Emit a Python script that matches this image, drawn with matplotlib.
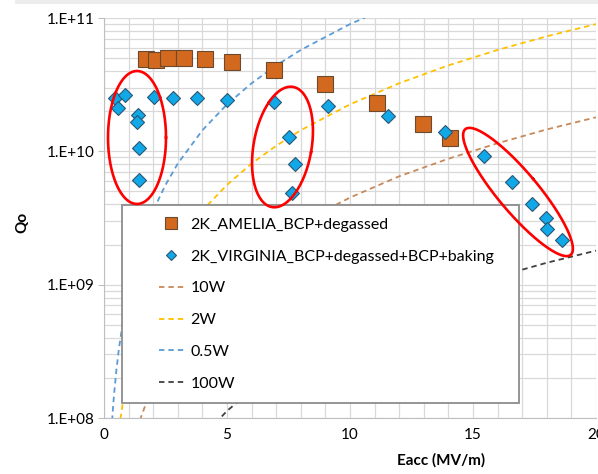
import numpy as np
import matplotlib
matplotlib.use("Agg")
import matplotlib.pyplot as plt
from matplotlib.lines import Line2D
from matplotlib.legend_handler import HandlerLine2D
from matplotlib.patches import Rectangle
from matplotlib.ticker import LogLocator, MultipleLocator

plt.rcParams['font.family'] = ['Lato', 'DejaVu Sans']

amelia_e = [1.7, 2.1, 2.6, 3.25, 4.1, 5.2, 6.9, 9.0, 11.1, 12.95, 14.05]
amelia_q = [4.9e10, 4.85e10, 5.0e10, 5.0e10, 4.9e10, 4.7e10, 4.05e10, 3.2e10, 2.3e10, 1.6e10, 1.25e10]

virginia_e = [0.45, 0.85, 0.57, 1.4, 1.33, 1.43, 1.43, 2.05, 2.8, 3.77, 5.0,
              6.9, 7.5, 7.77, 7.65, 9.1, 11.55, 13.85, 15.45, 16.6, 17.4, 17.95, 18.0, 18.6]
virginia_q = [2.5e10, 2.65e10, 2.1e10, 1.87e10, 1.66e10, 1.06e10, 6.1e9, 2.55e10, 2.5e10, 2.5e10, 2.43e10,
              2.35e10, 1.28e10, 8.0e9, 4.9e9, 2.2e10, 1.85e10, 1.4e10, 9.2e9, 5.9e9, 4.0e9, 3.15e9, 2.6e9, 2.15e9]

# constant power curves
curve_e = [0.3, 0.4, 0.5, 0.6, 0.8, 1.0, 1.25, 1.5, 2.0, 2.5, 3.0, 4.0, 5.0, 6.0, 7.0, 8.0,
           10.0, 12.0, 14.0, 16.0, 18.0, 20.0]
q_10w = [6.0e6, 7.2e6, 1.1e7, 1.6e7, 2.9e7, 4.5e7, 7.0e7, 1.01e8, 1.8e8, 2.8e8, 4.05e8, 7.2e8,
         1.13e9, 1.62e9, 2.2e9, 2.9e9, 4.5e9, 6.5e9, 8.8e9, 1.15e10, 1.46e10, 1.8e10]
q_2w = [2.0e7, 3.6e7, 5.6e7, 8.1e7, 1.44e8, 2.25e8, 3.5e8, 5.1e8, 9.0e8, 1.41e9, 2.03e9, 3.6e9,
        5.6e9, 8.1e9, 1.1e10, 1.44e10, 2.25e10, 3.24e10, 4.41e10, 5.76e10, 7.29e10, 9.0e10]
q_05w = [8.1e7, 1.44e8, 2.25e8, 3.24e8, 5.76e8, 9.0e8, 1.41e9, 2.03e9, 3.6e9, 5.6e9, 8.1e9, 1.44e10,
         2.25e10, 3.24e10, 4.41e10, 5.76e10, 9.0e10, 1.3e11, 1.76e11, 2.3e11, 2.9e11, 3.6e11]
q_100w = [4.0e5, 7.2e5, 1.1e6, 1.6e6, 2.9e6, 4.5e6, 7.0e6, 1.0e7, 1.8e7, 2.8e7, 4.05e7, 7.2e7,
          1.13e8, 1.62e8, 2.2e8, 2.9e8, 4.5e8, 6.5e8, 8.8e8, 1.15e9, 1.46e9, 1.8e9]

fig = plt.figure(figsize=(5.98, 4.74), dpi=100)
fig.patches.append(Rectangle((15/598, 470/474), 583/598, 4/474, transform=fig.transFigure,
                             color='#EDEDED', lw=0))
ax = fig.add_axes([104/598, 56/474, 492/598, 400/474])

grid_c = '#D9D9D9'
ax.set_xlim(0, 20)
ax.set_ylim(1e8, 1e11)
ax.set_yscale('log')
ax.xaxis.set_minor_locator(MultipleLocator(1))
ax.yaxis.set_minor_locator(LogLocator(base=10, subs=np.arange(2, 10), numticks=20))
ax.yaxis.set_minor_formatter(plt.NullFormatter())
ax.set_yticks([1e8, 1e9, 1e10, 1e11])
ax.set_yticklabels(['1.E+08', '1.E+09', '1.E+10', '1.E+11'])
ax.set_xticks([0, 5, 10, 15, 20])
ax.set_xticklabels(['0', '5', '10', '15', '20'])
ax.grid(which='both', color=grid_c, linewidth=0.9)
ax.set_axisbelow(True)
for s in ['top', 'right']:
    ax.spines[s].set_visible(False)
for s in ['left', 'bottom']:
    ax.spines[s].set_color('#BFBFBF')
ax.tick_params(axis='y', which='major', length=4, color='#BFBFBF', labelsize=11, pad=3)
ax.tick_params(axis='y', which='minor', length=0)
ax.tick_params(axis='x', which='both', length=0, labelsize=11, pad=7)

dash = (0, (3, 2.2))
ax.plot(curve_e, q_10w, ls=dash, color='#C8895A', lw=1.3, label='10W')
ax.plot(curve_e, q_2w, ls=dash, color='#FFC000', lw=1.3, label='2W')
ax.plot(curve_e, q_05w, ls=dash, color='#5B9BD5', lw=1.3, label='0.5W')
ax.plot(curve_e, q_100w, ls=dash, color='#404040', lw=1.3, label='100W')

ax.plot(amelia_e, amelia_q, 's', ms=11.5, mfc='#D2691E', mec='#6B4A30', mew=0.8,
        ls='none', label='2K_AMELIA_BCP+degassed')
ax.plot(virginia_e, virginia_q, 'D', ms=7.5, mfc='#10A8E6', mec='#2A5674', mew=0.8,
        ls='none', label='2K_VIRGINIA_BCP+degassed+BCP+baking')

handles, labels = ax.get_legend_handles_labels()
order = [4, 5, 0, 1, 2, 3]
leg = ax.legend([handles[i] for i in order], [labels[i] for i in order],
                loc='upper left', bbox_to_anchor=(0.0365, 0.05, 0.808, 0.4825), mode='expand',
                fontsize=11.5, frameon=True, fancybox=False, framealpha=1, edgecolor='#8C8C8C',
                labelspacing=1.1, handlelength=3.1, handletextpad=0.38, borderpad=0.8,
                borderaxespad=0, markerscale=0.72,
                handler_map={Line2D: HandlerLine2D(xpad=1.5)})
leg.get_frame().set_linewidth(1.3)
leg.set_zorder(5)

# red ellipses drawn in pixel space relative to the axes
W, H = 492.0, 400.0
t = np.linspace(0, 2 * np.pi, 200)
ellipses = [  # cx, cy (px from axes left/bottom), semi a, semi b, angle deg
    (33, 280.5, 29, 66.5, 0),
    (178.5, 271, 29, 61, -10),
    (414, 226, 20, 82, 40),
]
for cx, cy, a, b, ang in ellipses:
    r = np.deg2rad(ang)
    px = a * np.cos(t) * np.cos(r) - b * np.sin(t) * np.sin(r)
    py = a * np.cos(t) * np.sin(r) + b * np.sin(t) * np.cos(r)
    ax.plot((cx + px) / W, (cy + py) / H, color='#FF0000', lw=1.9,
            transform=ax.transAxes, clip_on=False, zorder=6)

ax.text(-0.166, 0.49, 'Qo', transform=ax.transAxes, rotation=90, fontsize=11,
        fontweight='bold', ha='center', va='center')
ax.text(0.685, -0.105, 'Eacc (MV/m)', transform=ax.transAxes, fontsize=11,
        fontweight='bold', ha='center', va='center')

fig.savefig('out.png', dpi=100)
